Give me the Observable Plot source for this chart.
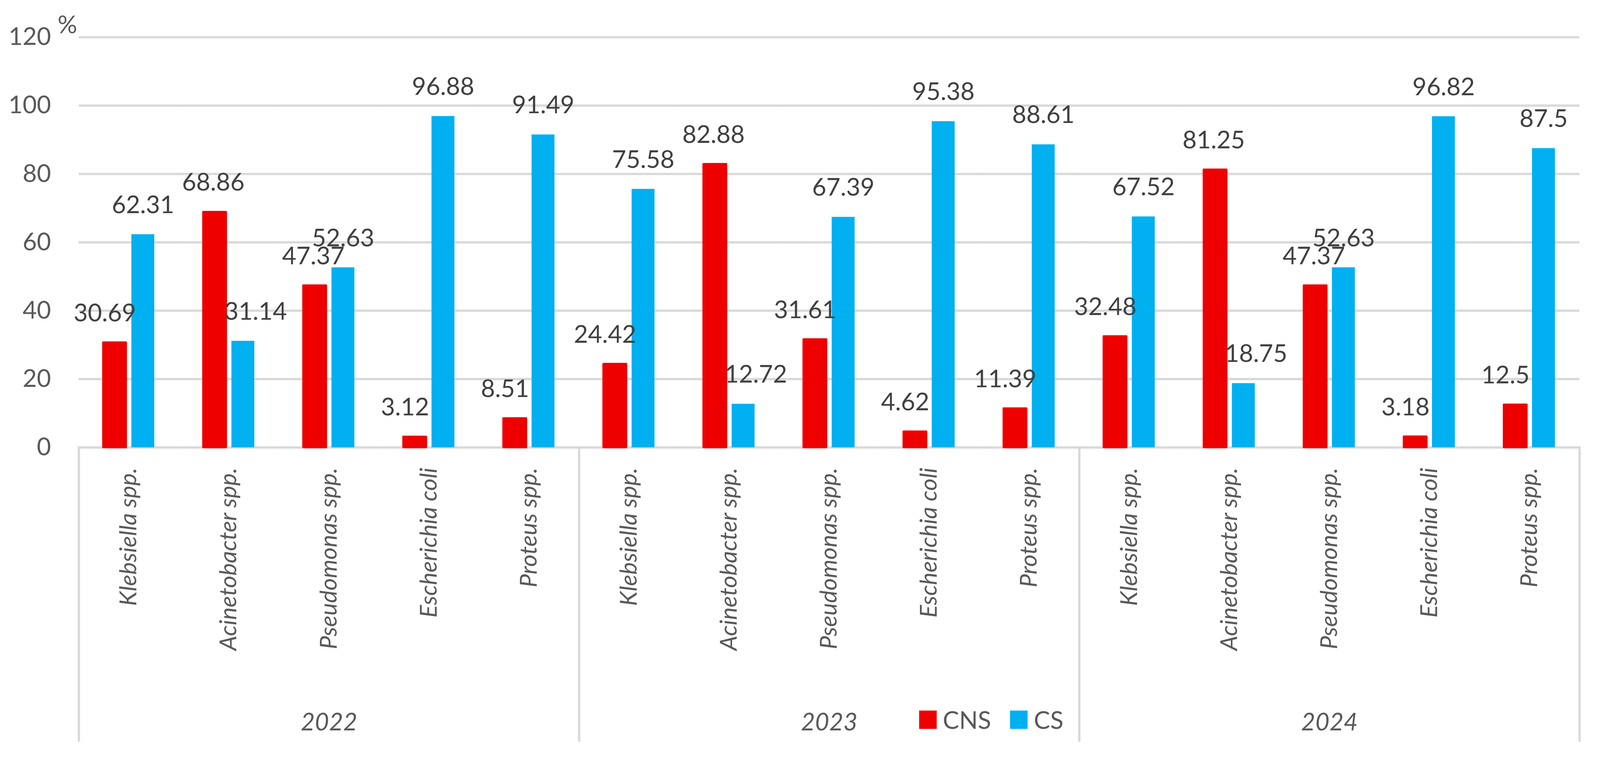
<!DOCTYPE html>
<html>
<head>
<meta charset="utf-8">
<script src="https://cdn.jsdelivr.net/npm/d3@7"></script>
<script src="https://cdn.jsdelivr.net/npm/@observablehq/plot@0.6"></script>
<style>
  html, body { margin: 0; padding: 0; background: #fff; overflow: hidden; }
  #wrap { position: relative; width: 4190px; height: 1975px; overflow: hidden; background: #fff; transform-origin: 0 0; }
  .lg-swatches { font-family: Lato, sans-serif !important; font-size: 64px !important; color: #595959 !important; margin: 0 !important; line-height: 1 !important; }
  .lg-swatch { margin-right: 50px !important; }
  .lg-swatch > svg { margin-right: 16px !important; }
</style>
</head>
<body>
<div id="wrap"></div>
<script>
// ---- data ----
const years = ["2022", "2023", "2024"];
const organisms = ["Klebsiella spp.", "Acinetobacter spp.", "Pseudomonas spp.", "Escherichia coli", "Proteus spp."];
const series = ["CNS", "CS"];
const colors = ["#EE0000", "#00B0F0"];
const cns2022 = [30.69, 68.86, 47.37, 3.12, 8.51];
const cs2022  = [62.31, 31.14, 52.63, 96.88, 91.49];
const cns2023 = [24.42, 82.88, 31.61, 4.62, 11.39];
const cs2023  = [75.58, 12.72, 67.39, 95.38, 88.61];
const cns2024 = [32.48, 81.25, 47.37, 3.18, 12.5];
const cs2024  = [67.52, 18.75, 52.63, 96.82, 87.5];
const yTicks = [0, 20, 40, 60, 80, 100, 120];

const cnsByYear = {"2022": cns2022, "2023": cns2023, "2024": cns2024};
const csByYear = {"2022": cs2022, "2023": cs2023, "2024": cs2024};

const keyOf = (y, o) => `${y}|${o}`;
const keys = years.flatMap(y => organisms.map(o => keyOf(y, o)));

const rows = [];
for (const y of years) {
  organisms.forEach((o, i) => {
    const a = cnsByYear[y][i], b = csByYear[y][i];
    rows.push({key: keyOf(y, o), year: y, org: o, series: "CNS", value: a, other: b});
    rows.push({key: keyOf(y, o), year: y, org: o, series: "CS", value: b, other: a});
  });
}

// ---- styles ----
const W = 4190, H = 1975;
const FS = 64;
const gridColor = "#d9d9d9";
const axisText = "#595959";
const labelText = "#404040";
const baseY = 1172;      // pixel of y = 0 (top margin + frame height)
const sepBottom = 1940;  // where the category separators end

const labelOpts = {
  fx: "key", x: "series", y: "value", text: d => String(d.value),
  lineAnchor: "bottom", dy: -56, fontSize: FS, fill: labelText
};

const chart = Plot.plot({
  width: W,
  height: H,
  marginLeft: 205,
  marginRight: 53,
  marginTop: 97,
  marginBottom: H - baseY,
  style: {fontFamily: "Lato, sans-serif", background: "#fff"},
  fx: {domain: keys, padding: 0, label: null},
  x: {domain: series, paddingInner: 0.19, paddingOuter: 0.865, axis: null},
  y: {domain: [0, 120]},
  color: {domain: series, range: colors},
  marks: [
    Plot.ruleY(yTicks, {stroke: gridColor, strokeWidth: 6}),
    // group separators below the baseline
    ...years.map(y => Plot.frame({anchor: "left", fx: keyOf(y, organisms[0]), stroke: gridColor, strokeWidth: 6,
      insetTop: baseY - 97, insetBottom: -(sepBottom - baseY)})),
    Plot.frame({anchor: "right", fx: keyOf(years[2], organisms[4]), stroke: gridColor, strokeWidth: 6,
      insetTop: baseY - 97, insetBottom: -(sepBottom - baseY)}),
    Plot.barY(rows.filter(d => d.series === "CNS"), {fx: "key", x: "series", y: "value", fill: "series",
      stroke: "series", strokeWidth: 5, strokeLinejoin: "round"}),
    Plot.barY(rows.filter(d => d.series === "CS"), {fx: "key", x: "series", y: "value", fill: "series"}),
    // data labels (nudged away from a taller neighbouring bar)
    Plot.text(rows.filter(d => d.series === "CNS" && d.other - d.value > 10), {...labelOpts, dx: -26}),
    Plot.text(rows.filter(d => d.series === "CNS" && !(d.other - d.value > 10)), {...labelOpts, dx: -4}),
    Plot.text(rows.filter(d => d.series === "CS" && d.other - d.value > 10), {...labelOpts, dx: 33}),
    Plot.text(rows.filter(d => d.series === "CS" && !(d.other - d.value > 10)), {...labelOpts, dx: 0}),
    Plot.axisY({ticks: yTicks, tickSize: 0, tickPadding: 73, fontSize: FS, fill: axisText, label: null}),
    Plot.axisFx({anchor: "bottom", tickSize: 0, tickPadding: 53, tickRotate: -90,
      tickFormat: k => k.split("|")[1], fontSize: 62, fontStyle: "italic", fill: axisText, label: null}),
    Plot.text(years, {fx: y => keyOf(y, organisms[2]), text: d => d, frameAnchor: "bottom",
      lineAnchor: "bottom", dy: 1913 - baseY, fontSize: FS, fontStyle: "italic", fill: axisText}),
    Plot.text(["%"], {facet: "super", frameAnchor: "top-left", text: d => d, dx: -30, dy: -31,
      textAnchor: "middle", lineAnchor: "middle", fontSize: FS, fill: axisText})
  ]
});

const wrap = document.getElementById("wrap");
wrap.appendChild(chart);

const legend = Plot.legend({
  color: {domain: series, range: colors},
  legend: "swatches",
  swatchWidth: 46,
  swatchHeight: 48,
  className: "lg"
});
legend.style.position = "absolute";
legend.style.left = "2407px";
legend.style.top = "1854px";
wrap.appendChild(legend);

// fit the fixed-size drawing to the actual viewport
function fit() {
  const s = Math.min(window.innerWidth / W, window.innerHeight / H);
  wrap.style.transform = `scale(${s})`;
}
fit();
window.addEventListener("resize", fit);
</script>
</body>
</html>
